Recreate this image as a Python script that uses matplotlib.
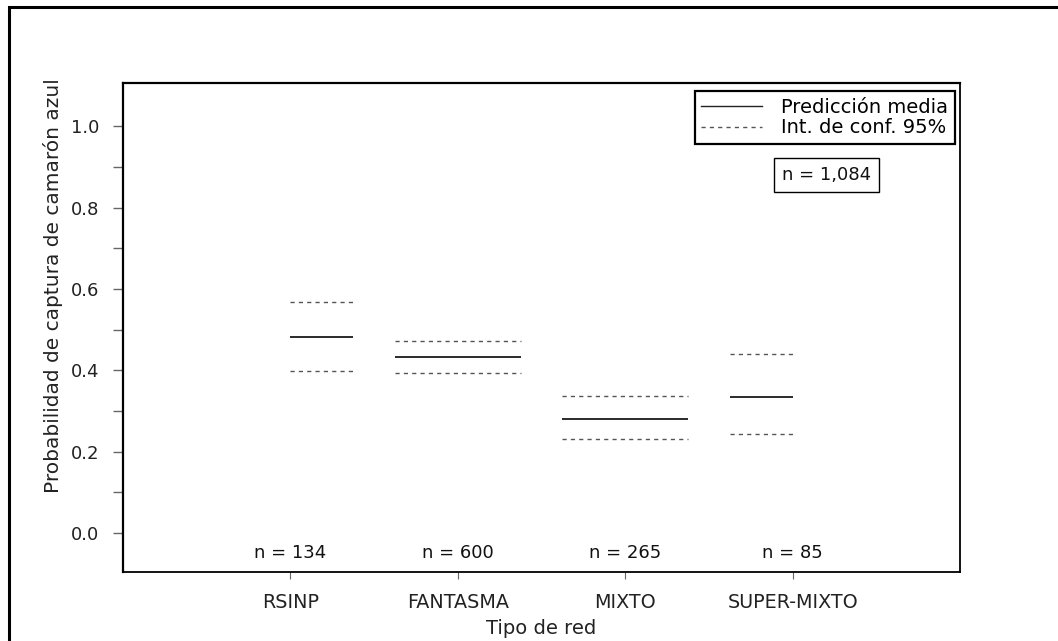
import numpy as np
from matplotlib import pyplot as plt
from matplotlib.lines import Line2D
from matplotlib.patches import Rectangle

# datos
tipos = ['RSINP', 'FANTASMA', 'MIXTO', 'SUPER-MIXTO']
n_obs = [134, 600, 265, 85]
pred_media = [0.482, 0.432, 0.279, 0.334]
ic_sup = [0.567, 0.473, 0.337, 0.441]
ic_inf = [0.399, 0.394, 0.231, 0.244]
n_total = '1,084'
y_ticks = [0.0, 0.2, 0.4, 0.6, 0.8, 1.0]
y_minor = [0.1, 0.3, 0.5, 0.7, 0.9]

plt.rcParams['font.family'] = ['DejaVu Sans']
plt.rcParams['font.size'] = 13


def plot_prob(out_name):
    fig = plt.figure(figsize=(10.58, 6.41), dpi=100)
    ax = fig.add_axes([0.1163, 0.1076, 0.7911, 0.7629])

    x = np.arange(1, len(tipos) + 1)
    half = 0.375
    left = np.clip(x - half, 1, len(tipos))
    right = np.clip(x + half, 1, len(tipos))

    ax.hlines(pred_media, left, right, colors='#111111', linewidth=1.25)
    ax.hlines(ic_sup, left, right, colors='#555555', linewidth=1.0,
              linestyles=(0, (3, 3)))
    ax.hlines(ic_inf, left, right, colors='#555555', linewidth=1.0,
              linestyles=(0, (3, 3)))

    for xi, n in zip(x, n_obs):
        ax.text(xi, -0.049, 'n = {}'.format(n), ha='center', va='center',
                color='#111111')

    ax.set_xlim(0, 5)
    ax.set_ylim(-0.096, 1.106)
    ax.set_xticks(x)
    ax.set_xticklabels(tipos, fontsize=13.8)
    ax.set_yticks(y_ticks)
    ax.set_yticklabels(['{:.1f}'.format(v) for v in y_ticks])
    ax.set_yticks(y_minor, minor=True)

    ax.tick_params(axis='y', which='both', length=7.2, width=1.0,
                   color='#666666', pad=10, labelcolor='#222222')
    ax.tick_params(axis='x', length=5, width=0.8, color='#666666', pad=10,
                   labelcolor='#222222')

    for side in ['left', 'top']:
        ax.spines[side].set_linewidth(1.6)
    for side in ['right', 'bottom']:
        ax.spines[side].set_linewidth(1.3)

    ax.set_ylabel('Probabilidad de captura de camarón azul', color='#222222',
                  fontsize=14.5)
    ax.yaxis.label.set_verticalalignment('center')
    ax.yaxis.set_label_coords(-0.0836, 0.585)
    ax.set_xlabel('Tipo de red', color='#222222', fontsize=14)
    ax.xaxis.label.set_verticalalignment('center')
    ax.xaxis.set_label_coords(0.5, -0.1145)

    handles = [Line2D([], [], color='#222222', linewidth=1.0),
               Line2D([], [], color='#555555', linewidth=1.0,
                      linestyle=(0, (3, 3)))]
    leg = ax.legend(handles, ['Predicción media', 'Int. de conf. 95%'],
                    loc='upper right', bbox_to_anchor=(0.994, 0.9836),
                    borderaxespad=0, handlelength=3.1, handletextpad=1.0,
                    labelspacing=0.08, borderpad=0.35, fancybox=False,
                    framealpha=1, fontsize=14)
    leg.get_frame().set_edgecolor('black')
    leg.get_frame().set_linewidth(1.6)

    ax.text(4.204, 0.880, 'n = ' + n_total, ha='center', va='center',
            color='#111111',
            bbox=dict(boxstyle='square,pad=0.45', facecolor='white',
                      edgecolor='black', linewidth=1.0))

    # marco exterior (cortado a la derecha y abajo)
    fig.patches.append(Rectangle((9 / 1058, -0.2), 1.2, 0.2 + 634 / 641,
                                 transform=fig.transFigure, fill=False,
                                 linewidth=2.2, edgecolor='black'))

    fig.savefig(out_name, dpi=100)


if __name__ == '__main__':
    plot_prob('out.png')
